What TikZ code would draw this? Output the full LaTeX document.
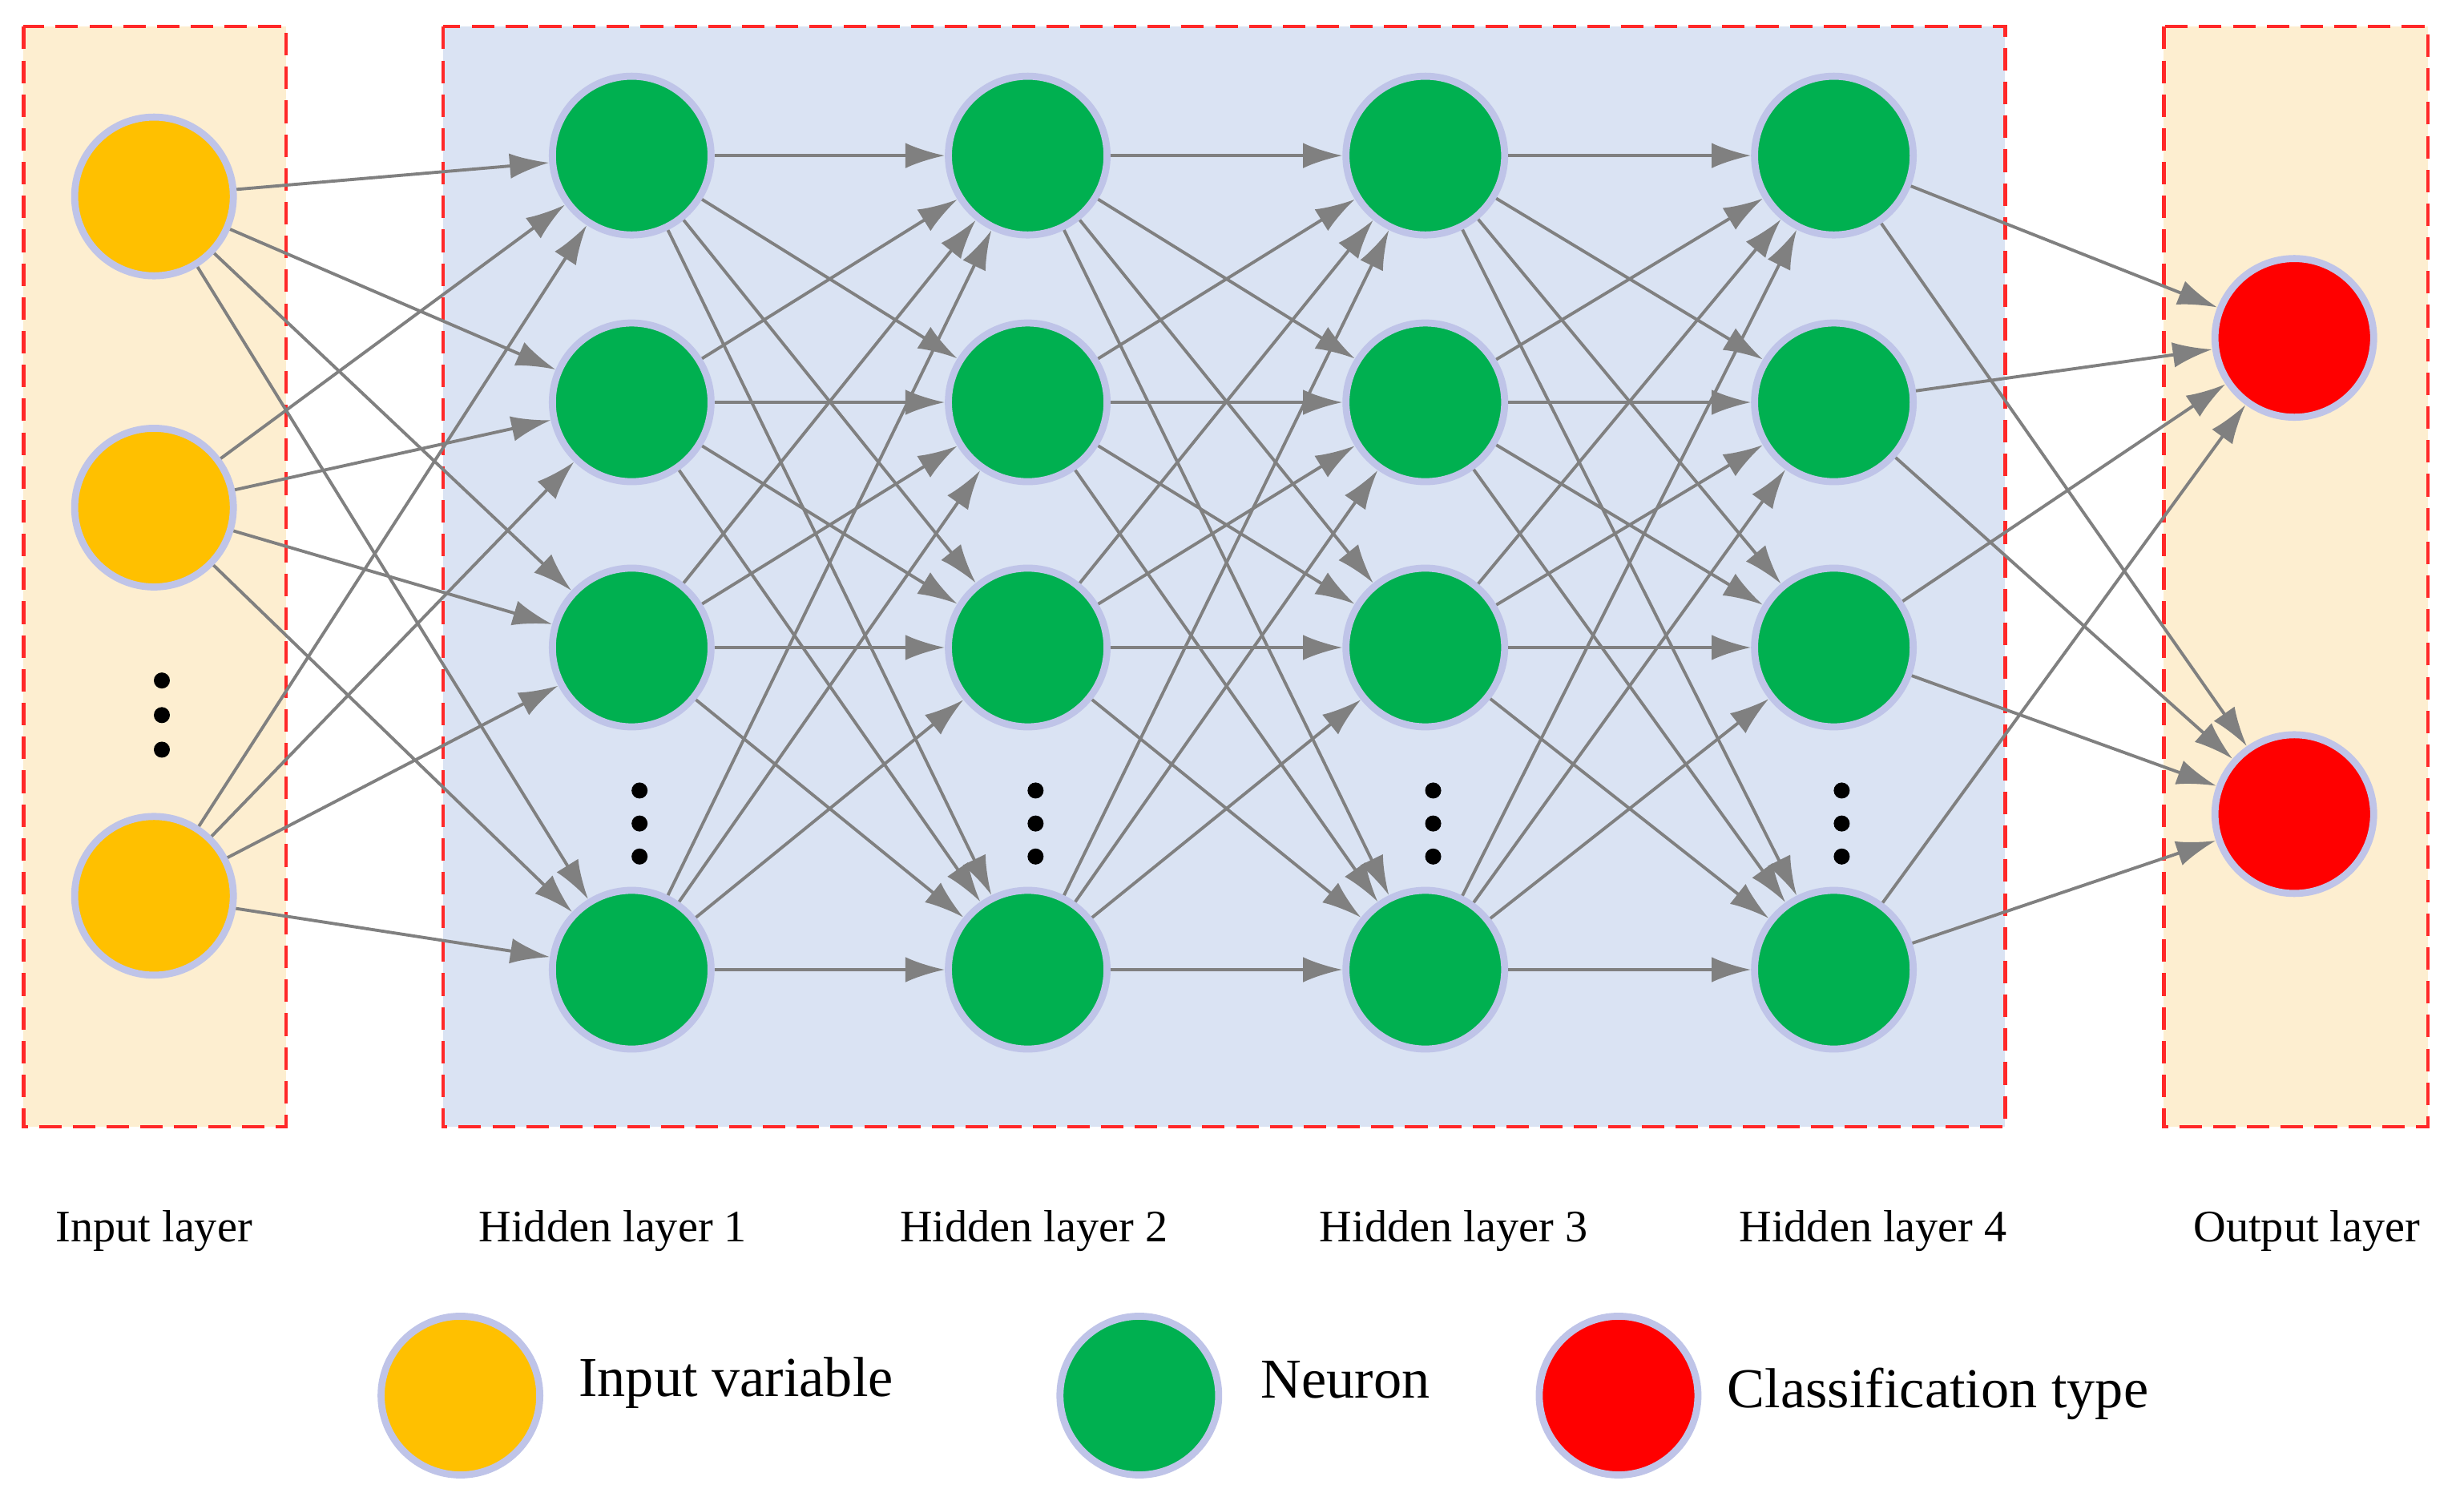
\documentclass[tikz,border=0pt]{standalone}
\usepackage{fontspec}
\setmainfont{Liberation Serif}
\usetikzlibrary{arrows.meta}
\begin{document}
\begin{tikzpicture}[x=0.01961cm,y=-0.01961cm,
  neu/.style={circle,minimum size=1.98cm,inner sep=0pt,draw=cyan!30!blue!25,line width=2.5pt},
  inp/.style={neu,fill={rgb,255:red,255;green,192;blue,0}},
  hid/.style={neu,fill={rgb,255:red,0;green,176;blue,80}},
  outn/.style={neu,fill={rgb,255:red,255;green,0;blue,0}},
  box/.style={draw={rgb,255:red,255;green,40;blue,40},dashed,line width=1.2pt,dash pattern=on 8pt off 4pt},
  conn/.style={draw={rgb,255:red,128;green,128;blue,128},line width=1.1pt,-{Latex[length=14pt,width=9pt]}},
  dot/.style={circle,fill=black,inner sep=0pt,minimum size=0.2cm},
  lab/.style={font=\fontsize{16}{18}\selectfont},
  leg/.style={font=\fontsize{20}{24}\selectfont,anchor=west}]
\useasboundingbox (0,0) rectangle (1568,960);
\fill[white] (0,0) rectangle (1568,960);
\path[box,fill={rgb,255:red,253;green,238;blue,208}] (15,17) rectangle (182,717);
\path[box,fill={rgb,255:red,218;green,227;blue,243}] (282,17) rectangle (1276,717);
\path[box,fill={rgb,255:red,253;green,238;blue,208}] (1377,17) rectangle (1545,717);
% input nodes
\node[inp] (i1) at (98,125) {};
\node[inp] (i2) at (98,323) {};
\node[inp] (i3) at (98,570) {};
\foreach \y [count=\k] in {433,455,477} \node[dot] (di\k) at (103,\y) {};
% hidden
\foreach \x [count=\c] in {402,654,907,1167}{
  \foreach \y [count=\r] in {99,256,412,617} \node[hid] (h\c\r) at (\x,\y) {};
  \foreach \y [count=\k] in {503,524,545} \node[dot] (dh\c\k) at (\x+5,\y) {};
}
\node[outn] (o1) at (1460,215) {};
\node[outn] (o2) at (1460,518) {};
% connections
\foreach \a in {1,2,3} \foreach \b in {1,2,3,4} \draw[conn] (i\a) -- (h1\b);
\foreach \c/\d in {1/2,2/3,3/4} \foreach \a in {1,2,3,4} \foreach \b in {1,2,3,4} \draw[conn] (h\c\a) -- (h\d\b);
\foreach \a in {1,2,3,4} \foreach \b in {1,2} \draw[conn] (h4\a) -- (o\b);
% labels
\node[lab] (l0) at (98,783) {Input layer};
\node[lab] (l1) at (390,783) {Hidden layer 1};
\node[lab] (l2) at (658,783) {Hidden layer 2};
\node[lab] (l3) at (925,783) {Hidden layer 3};
\node[lab] (l4) at (1192,783) {Hidden layer 4};
\node[lab] (l5) at (1468,783) {Output layer};
% legend
\node[inp] (g1) at (293,888) {};
\node[hid] (g2) at (725,888) {};
\node[outn] (g3) at (1030,888) {};
\node[leg] (t1) at (362,880) {Input variable};
\node[leg] (t2) at (796,878) {Neuron};
\node[leg] (t3) at (1093,887) {Classification type};
\end{tikzpicture}
\end{document}
